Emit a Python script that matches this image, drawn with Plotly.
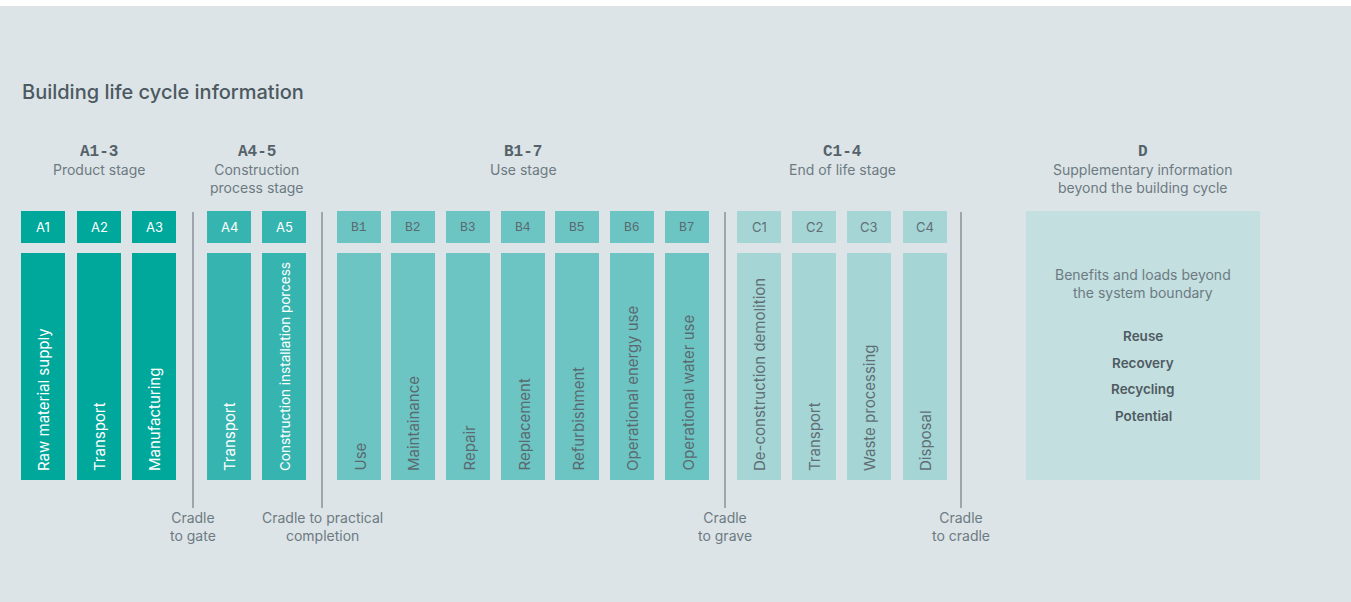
import plotly.graph_objects as go

# ---------------- data ----------------
module_codes = ["A1", "A2", "A3", "A4", "A5",
                "B1", "B2", "B3", "B4", "B5", "B6", "B7",
                "C1", "C2", "C3", "C4"]
module_labels = ["Raw material supply", "Transport", "Manufacturing",
                 "Transport", "Construction installation porcess",
                 "Use", "Maintainance", "Repair", "Replacement", "Refurbishment",
                 "Operational energy use", "Operational water use",
                 "De-construction demolition", "Transport", "Waste processing", "Disposal"]
module_stage = ["A1-3", "A1-3", "A1-3", "A4-5", "A4-5",
                "B1-7", "B1-7", "B1-7", "B1-7", "B1-7", "B1-7", "B1-7",
                "C1-4", "C1-4", "C1-4", "C1-4"]
stage_codes = ["A1-3", "A4-5", "B1-7", "C1-4", "D"]
stage_names = ["Product stage", "Construction<br>process stage", "Use stage",
               "End of life stage", "Supplementary information<br>beyond the building cycle"]
boundary_labels = ["Cradle<br>to gate", "Cradle to practical<br>completion",
                   "Cradle<br>to grave", "Cradle<br>to cradle"]
d_intro = "Benefits and loads beyond<br>the system boundary"
d_items = ["Reuse", "Recovery", "Recycling", "Potential"]
title = "Building life cycle information"

# ---------------- layout / style ----------------
W, H = 1351, 602
BG = "#dce4e7"
stage_fill = {"A1-3": "#00a79b", "A4-5": "#36b5b0", "B1-7": "#6cc5c3",
              "C1-4": "#a5d5d5", "D": "#c3dfe0"}
stage_text = {"A1-3": "#ffffff", "A4-5": "#ffffff", "B1-7": "#5a6a70",
              "C1-4": "#5f6f75"}
module_x0 = [21, 77, 132, 207, 262, 337, 391, 446, 501, 555, 610, 665, 737, 792, 847, 903]
box_w = 44
head_y0, head_y1 = 211, 243
body_y0, body_y1 = 253, 480
divider_x = [193, 322, 725, 961]
d_x0, d_x1 = 1026, 1260
TITLE_C = "#4c5961"
SUB_C = "#6d7a82"
SANS = "Inter"
MONO = "Liberation Mono"

fig = go.Figure()
shapes = []
ann = []

# background
shapes.append(dict(type="rect", x0=0, x1=W, y0=6, y1=H, fillcolor=BG,
                   line=dict(width=0), layer="below"))

# module boxes
for code, lab, st, x0 in zip(module_codes, module_labels, module_stage, module_x0):
    col = stage_fill[st]
    shapes.append(dict(type="rect", x0=x0, x1=x0 + box_w, y0=head_y0, y1=head_y1,
                       fillcolor=col, line=dict(width=0)))
    shapes.append(dict(type="rect", x0=x0, x1=x0 + box_w, y0=body_y0, y1=body_y1,
                       fillcolor=col, line=dict(width=0)))
    cx = x0 + box_w / 2
    ann.append(dict(x=cx, y=(head_y0 + head_y1) / 2, text=code, showarrow=False,
                    xanchor="center", yanchor="middle",
                    font=dict(family=MONO if st == "B1-7" else SANS, size=13,
                              color=stage_text[st])))
    fs = 13.5 if len(lab) > 30 else 15
    ann.append(dict(x=cx + 0.5, y=body_y1 - 7, text=lab, showarrow=False, textangle=-90,
                    xanchor="center", yanchor="bottom",
                    font=dict(family=SANS, size=fs, color=stage_text[st])))

# D box
shapes.append(dict(type="rect", x0=d_x0, x1=d_x1, y0=head_y0, y1=body_y1,
                   fillcolor=stage_fill["D"], line=dict(width=0)))
dcx = (d_x0 + d_x1) / 2
ann.append(dict(x=dcx, y=264, text=d_intro, showarrow=False, xanchor="center",
                yanchor="top", font=dict(family=SANS, size=14, color=SUB_C)))
for i, item in enumerate(d_items):
    ann.append(dict(x=dcx, y=336 + i * 26.7, text=item, showarrow=False,
                    xanchor="center", yanchor="middle",
                    font=dict(family=SANS, size=13.5, color="#4f5b62", weight=600)))

# dividers + boundary labels
for dx, lab in zip(divider_x, boundary_labels):
    shapes.append(dict(type="line", x0=dx, x1=dx, y0=head_y0 + 1, y1=508,
                       line=dict(color="#5d6870", width=1)))
    ann.append(dict(x=dx, y=507, text=lab, showarrow=False, xanchor="center",
                    yanchor="top", font=dict(family=SANS, size=14, color=SUB_C)))

# stage headers
for sc, sn in zip(stage_codes, stage_names):
    if sc == "D":
        cx = dcx
    else:
        xs = [x for x, s in zip(module_x0, module_stage) if s == sc]
        cx = (min(xs) + max(xs) + box_w) / 2
    ann.append(dict(x=cx, y=152, text=sc, showarrow=False, xanchor="center",
                    yanchor="middle",
                    font=dict(family=MONO, size=16, color="#55626a", weight="bold")))
    ann.append(dict(x=cx, y=159, text=sn, showarrow=False, xanchor="center",
                    yanchor="top", font=dict(family=SANS, size=14, color=SUB_C)))

# title
ann.append(dict(x=20, y=92, text=title, showarrow=False, xanchor="left",
                yanchor="middle",
                font=dict(family=SANS, size=20, color=TITLE_C, weight=500)))

fig.update_layout(
    width=W, height=H, margin=dict(l=0, r=0, t=0, b=0),
    paper_bgcolor="#ffffff", plot_bgcolor="#ffffff",
    xaxis=dict(range=[0, W], visible=False, fixedrange=True),
    yaxis=dict(range=[H, 0], visible=False, fixedrange=True),
    shapes=shapes, annotations=ann, showlegend=False,
)
fig.write_html("out.html", config={"displayModeBar": False},
               post_script="document.body.style.margin='0';document.body.style.overflow='hidden';")
